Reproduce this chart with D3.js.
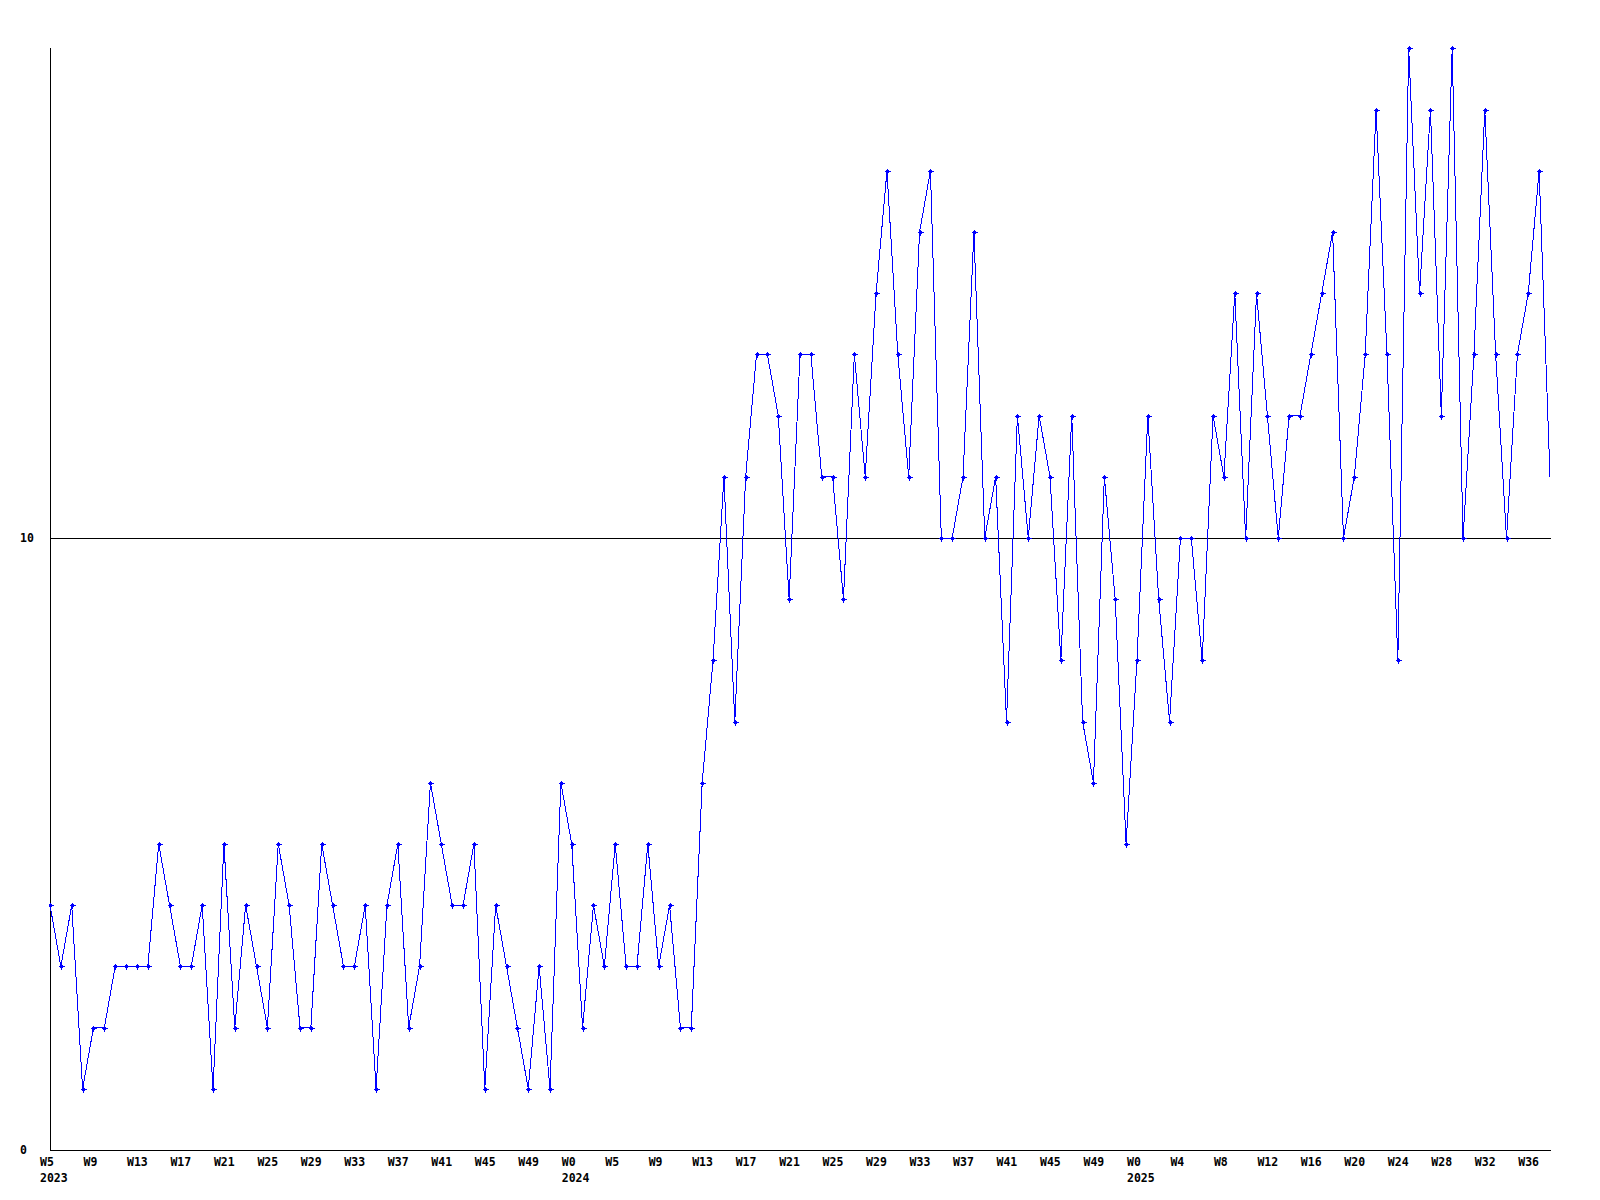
<!DOCTYPE html>
<html>
<head>
<meta charset="utf-8">
<script src="https://cdn.jsdelivr.net/npm/d3@7"></script>
<style>
  html, body { margin: 0; padding: 0; background: #ffffff; }
  svg { display: block; }
  text { font-family: "DejaVu Sans Mono", "Liberation Mono", monospace; font-weight: bold; font-size: 11.5px; fill: #000; }
</style>
</head>
<body>
<svg id="chart" width="1600" height="1200"></svg>
<script>
// Weekly values, 2023 W5 through 2025 W37
const values = [
  4,3,4,1,2,2,3,3,3,3,
  5,4,3,3,4,1,5,2,4,3,
  2,5,4,2,2,5,4,3,3,4,
  1,4,5,2,3,6,5,4,4,5,
  1,4,3,2,1,3,1,6,5,2,
  4,3,5,3,3,5,3,4,2,2,
  6,8,11,7,11,13,13,12,9,13,
  13,11,11,9,13,11,14,16,13,11,
  15,16,10,10,11,15,10,11,7,12,
  10,12,11,8,12,7,6,11,9,5,
  8,12,9,7,10,10,8,12,11,14,
  10,14,12,10,12,12,13,14,15,10,
  11,13,17,13,8,18,14,17,12,18,
  10,13,17,13,10,13,14,16,11
];

// Week tick labels, one every 4 points
const weekLabels = [
  "W5","W9","W13","W17","W21","W25","W29","W33","W37","W41","W45","W49",
  "W0","W5","W9","W13","W17","W21","W25","W29","W33","W37","W41","W45","W49",
  "W0","W4","W8","W12","W16","W20","W24","W28","W32","W36"
];
const tickStep = 4;

// Year labels and the point index where each starts
const yearLabels = ["2023", "2024", "2025"];
const yearIndex = [0, 48, 100];

// Y-axis labelled values and reference line
const yTickValues = [0, 10];
const refValue = 10;
const yMax = 18;

const svg = d3.select("#chart");

const x = d3.scaleLinear().domain([0, values.length - 1]).range([50, 1550]);
const y = d3.scaleLinear().domain([0, yMax]).range([1150, 48.4]);

// Axes lines
svg.append("line")
  .attr("x1", 50.5).attr("x2", 50.5)
  .attr("y1", y(yMax)).attr("y2", y(0) + 0.5)
  .attr("stroke", "#000").attr("stroke-width", 1)
  .attr("shape-rendering", "crispEdges");
svg.append("line")
  .attr("x1", 50).attr("x2", 1551)
  .attr("y1", y(0) + 0.5).attr("y2", y(0) + 0.5)
  .attr("stroke", "#000").attr("stroke-width", 1)
  .attr("shape-rendering", "crispEdges");

// Reference line at 10
svg.append("line")
  .attr("x1", 50).attr("x2", 1551)
  .attr("y1", Math.round(y(refValue)) + 0.5).attr("y2", Math.round(y(refValue)) + 0.5)
  .attr("stroke", "#000").attr("stroke-width", 1)
  .attr("shape-rendering", "crispEdges");

// Y labels
svg.selectAll("text.ylab").data(yTickValues).enter().append("text")
  .attr("class", "ylab")
  .attr("x", 20)
  .attr("y", d => y(d) + 4)
  .text(d => d);

// X labels
const tickIdx = d3.range(0, values.length, tickStep).slice(0, weekLabels.length);
svg.selectAll("text.xlab").data(tickIdx).enter().append("text")
  .attr("class", "xlab")
  .attr("x", d => x(d) - 10)
  .attr("y", 1166)
  .text((d, i) => weekLabels[i]);

svg.selectAll("text.year").data(yearLabels).enter().append("text")
  .attr("class", "year")
  .attr("x", (d, i) => x(yearIndex[i]) - 10)
  .attr("y", 1182)
  .text(d => d);

// Clip for plot area
svg.append("clipPath").attr("id", "plotclip")
  .append("rect").attr("x", 49).attr("y", 40).attr("width", 1498).attr("height", 1115);

// Data line
const line = d3.line().x((d, i) => x(i)).y(d => y(d));
svg.append("path")
  .datum(values)
  .attr("d", line)
  .attr("fill", "none")
  .attr("stroke", "#0000ff")
  .attr("stroke-width", 1)
  .attr("shape-rendering", "crispEdges");

// Markers
const g = svg.append("g").attr("clip-path", "url(#plotclip)");
const markers = g.selectAll("g.m").data(values).enter().append("g")
  .attr("class", "m")
  .attr("transform", (d, i) => `translate(${Math.round(x(i))},${Math.round(y(d))})`);
markers.append("path")
  .attr("d", "M-2.5,0.5H3.5M0.5,-2.5V3.5")
  .attr("stroke", "#0000ff").attr("stroke-width", 1)
  .attr("shape-rendering", "crispEdges");
markers.append("rect")
  .attr("x", -1).attr("y", -1).attr("width", 3).attr("height", 3)
  .attr("fill", "#0000ff")
  .attr("shape-rendering", "crispEdges");
</script>
</body>
</html>
